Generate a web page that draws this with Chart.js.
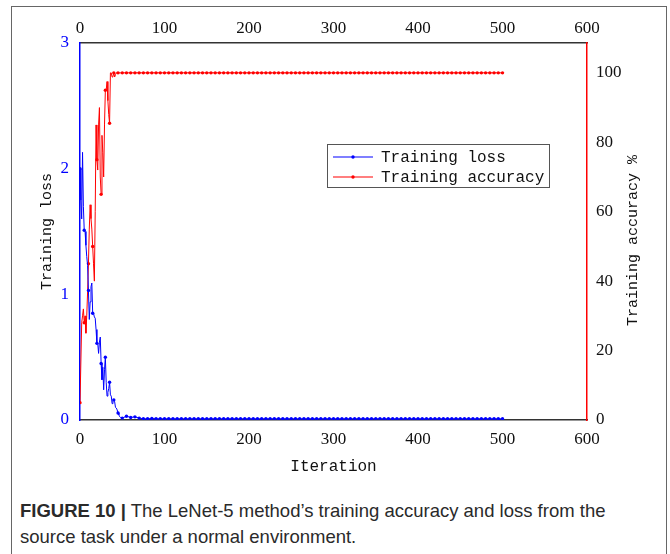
<!DOCTYPE html>
<html>
<head>
<meta charset="utf-8">
<script src="https://cdn.jsdelivr.net/npm/chart.js@4.4.0/dist/chart.umd.min.js"></script>
<style>
  html, body { margin: 0; padding: 0; background: #fff; }
  body { width: 670px; height: 554px; position: relative; overflow: hidden; }
  #frame { position: absolute; left: 11px; top: 6px; width: 656px; height: 600px; border: 1px solid #666; box-sizing: border-box; }
  #wrap { position: absolute; left: 0; top: 0; width: 670px; height: 480px; }
  #caption { position: absolute; left: 20px; top: 498px; width: 640px; font-family: "Liberation Sans", Arial, sans-serif; font-size: 18.5px; line-height: 26px; color: #2a2a2a; }
  #caption b { font-weight: bold; }
</style>
</head>
<body>
<div id="frame"></div>
<div id="wrap"><canvas id="c" width="670" height="480"></canvas></div>
<div id="caption"><b>FIGURE 10 |</b> The LeNet-5 method’s training accuracy and loss from the source task under a normal environment.</div>
<script>
// ---- data ----
const iterations = [
  0,1,2,3,4,5,6,7,8,9,10,11,12,13,14,15,16,17,18,19,20,21,22,23,24,25,26,27,28,29,30,
  31,32,33,34,35,36,37,38,39,40,41,42,43,44,45,46,47,48,49,50,
  55,60,65,70,75,80,85,90,95,100,105,110,115,120,125,130,135,140,145,150,
  155,160,165,170,175,180,185,190,195,200,205,210,215,220,225,230,235,240,245,250,
  255,260,265,270,275,280,285,290,295,300,305,310,315,320,325,330,335,340,345,350,
  355,360,365,370,375,380,385,390,395,400,405,410,415,420,425,430,435,440,445,450,
  455,460,465,470,475,480,485,490,495,500
];
const trainingLoss = [
  2.0,1.75,1.6,2.13,1.7,1.51,1.5,1.39,1.3,1.23,1.03,0.8,0.94,1.06,1.09,0.85,0.85,0.82,0.81,0.72,0.61,
  0.61,0.53,0.62,0.66,0.45,0.32,0.42,0.24,0.4,0.5,0.3,0.19,0.22,0.25,0.3,0.2,0.19,0.13,0.15,0.16,
  0.145,0.1,0.095,0.08,0.056,0.04,0.026,0.02,0.02,0.015,
  0.03,0.02,0.025,0.015,0.01,0.01,0.012,0.01,0.01,0.01,0.01,0.01,0.01,0.01,0.01,0.01,0.01,0.01,0.01,0.01,
  0.01,0.01,0.01,0.01,0.01,0.01,0.01,0.01,0.01,0.01,0.01,0.01,0.01,0.01,0.01,0.01,0.01,0.01,0.01,0.01,
  0.01,0.01,0.01,0.01,0.01,0.01,0.01,0.01,0.01,0.01,0.01,0.01,0.01,0.01,0.01,0.01,0.01,0.01,0.01,0.01,
  0.01,0.01,0.01,0.01,0.01,0.01,0.01,0.01,0.01,0.01,0.01,0.01,0.01,0.01,0.01,0.01,0.01,0.01,0.01,0.01,
  0.01,0.01,0.01,0.01,0.01,0.01,0.01,0.01,0.01,0.01
];
const trainingAccuracy = [
  5,5,28,30,32,28,30,25,30,37,45,55,62,58,55,50,45,40,60,85,75,
  72,85,90,70,65,82,77,70,85,95,95,97.5,92,88,85.5,100,100,98.8,99,100,
  98.8,99.5,100,100,100,100,100,100,100,100,
  100,100,100,100,100,100,100,100,100,100,100,100,100,100,100,100,100,100,100,100,
  100,100,100,100,100,100,100,100,100,100,100,100,100,100,100,100,100,100,100,100,
  100,100,100,100,100,100,100,100,100,100,100,100,100,100,100,100,100,100,100,100,
  100,100,100,100,100,100,100,100,100,100,100,100,100,100,100,100,100,100,100,100,
  100,100,100,100,100,100,100,100,100,100
];
const seriesNames = ["Training loss", "Training accuracy"];
const xTicks = [0, 100, 200, 300, 400, 500, 600];
const lossTicks = [0, 1, 2, 3];
const accTicks = [0, 20, 40, 60, 80, 100];
const axisTitles = { x: "Iteration", left: "Training loss", right: "Training accuracy %" };

// ---- chart ----
const serif = '"Liberation Serif", "DejaVu Serif", serif';
const mono = '"Liberation Mono", "DejaVu Sans Mono", monospace';

const markerRadius = (ctx) => (iterations[ctx.dataIndex] % 5 === 0 ? 1.7 : 0);

const legendPlugin = {
  id: 'boxLegend',
  afterDraw(chart, args, opts) {
    const ctx = chart.ctx;
    ctx.save();
    ctx.strokeStyle = '#555';
    ctx.lineWidth = 1;
    ctx.strokeRect(opts.x + 0.5, opts.y + 0.5, opts.w, opts.h);
    chart.data.datasets.forEach((ds, i) => {
      const yy = opts.y + opts.rowY[i];
      ctx.strokeStyle = ds.borderColor;
      ctx.lineWidth = 1.2;
      ctx.beginPath();
      ctx.moveTo(opts.x + 6, yy);
      ctx.lineTo(opts.x + 46, yy);
      ctx.stroke();
      ctx.fillStyle = ds.borderColor;
      ctx.beginPath();
      ctx.arc(opts.x + 26, yy, 1.7, 0, Math.PI * 2);
      ctx.fill();
      ctx.fillStyle = '#111';
      ctx.font = '16px ' + mono;
      ctx.textBaseline = 'middle';
      ctx.textAlign = 'left';
      ctx.fillText(ds.label, opts.x + 54, yy + 1);
    });
    ctx.restore();
  }
};

const rightTitlePlugin = {
  id: 'rightTitle',
  afterDraw(chart, args, opts) {
    const ctx = chart.ctx;
    const ca = chart.chartArea;
    ctx.save();
    ctx.translate(opts.x, (ca.top + ca.bottom) / 2 + opts.dy);
    ctx.rotate(-Math.PI / 2);
    ctx.fillStyle = '#111';
    ctx.font = '15px ' + mono;
    ctx.textAlign = 'center';
    ctx.textBaseline = 'middle';
    ctx.fillText(axisTitles.right, 0, 0);
    ctx.restore();
  }
};

const noGrid = { display: true, drawOnChartArea: false, drawTicks: false, color: 'rgba(0,0,0,0)' };

new Chart(document.getElementById('c'), {
  type: 'line',
  data: {
    datasets: [
      {
        label: seriesNames[0],
        data: iterations.map((it, i) => ({ x: it, y: trainingLoss[i] })),
        borderColor: '#0000ff',
        backgroundColor: '#0000ff',
        borderWidth: 1,
        pointRadius: markerRadius,
        pointHoverRadius: 0,
        pointBorderWidth: 0,
        tension: 0,
        yAxisID: 'y'
      },
      {
        label: seriesNames[1],
        data: iterations.map((it, i) => ({ x: it, y: trainingAccuracy[i] })),
        borderColor: '#ff0000',
        backgroundColor: '#ff0000',
        borderWidth: 1,
        pointRadius: markerRadius,
        pointHoverRadius: 0,
        pointBorderWidth: 0,
        tension: 0,
        yAxisID: 'y1'
      }
    ]
  },
  options: {
    responsive: false,
    animation: false,
    events: [],
    layout: { padding: { left: 0, right: 0, top: 0, bottom: 0 } },
    plugins: {
      legend: { display: false },
      tooltip: { enabled: false },
      boxLegend: { x: 327, y: 144, w: 222, h: 43, rowY: [13, 33] },
      rightTitle: { x: 633, dy: 9 }
    },
    scales: {
      x: {
        type: 'linear', position: 'bottom', min: 0, max: 600,
        afterBuildTicks: (s) => { s.ticks = xTicks.map(v => ({ value: v })); },
        afterFit: (s) => { s.height = 60; },
        grid: noGrid,
        border: { display: true, color: '#333', width: 1.5 },
        ticks: { color: '#111', padding: 9, maxRotation: 0, font: { family: serif, size: 17 } },
        title: { display: true, text: axisTitles.x, color: '#111', padding: { top: 0, bottom: 4 }, font: { family: mono, size: 16 } }
      },
      x2: {
        type: 'linear', position: 'top', min: 0, max: 600,
        afterBuildTicks: (s) => { s.ticks = xTicks.map(v => ({ value: v })); },
        afterFit: (s) => { s.height = 43; },
        grid: noGrid,
        border: { display: true, color: '#333', width: 1.5 },
        ticks: { color: '#111', padding: 4, maxRotation: 0, font: { family: serif, size: 17 } }
      },
      y: {
        type: 'linear', position: 'left', min: 0, max: 3,
        afterBuildTicks: (s) => { s.ticks = lossTicks.map(v => ({ value: v })); },
        afterFit: (s) => { s.width = 80; },
        grid: noGrid,
        border: { display: true, color: '#0000ff', width: 1.5 },
        ticks: { color: '#0000ff', padding: 11, font: { family: serif, size: 17 } },
        title: { display: true, text: axisTitles.left, color: '#111', padding: { top: 38, bottom: 0 }, font: { family: mono, size: 15 } }
      },
      y1: {
        type: 'linear', position: 'right', min: 0, max: 108.6,
        afterBuildTicks: (s) => { s.ticks = accTicks.map(v => ({ value: v })); },
        afterFit: (s) => { s.width = 83; },
        grid: noGrid,
        border: { display: true, color: '#ff0000', width: 1.5 },
        ticks: { color: '#111', padding: 9, font: { family: serif, size: 17 } }
      }
    }
  },
  plugins: [legendPlugin, rightTitlePlugin]
});
</script>
</body>
</html>
